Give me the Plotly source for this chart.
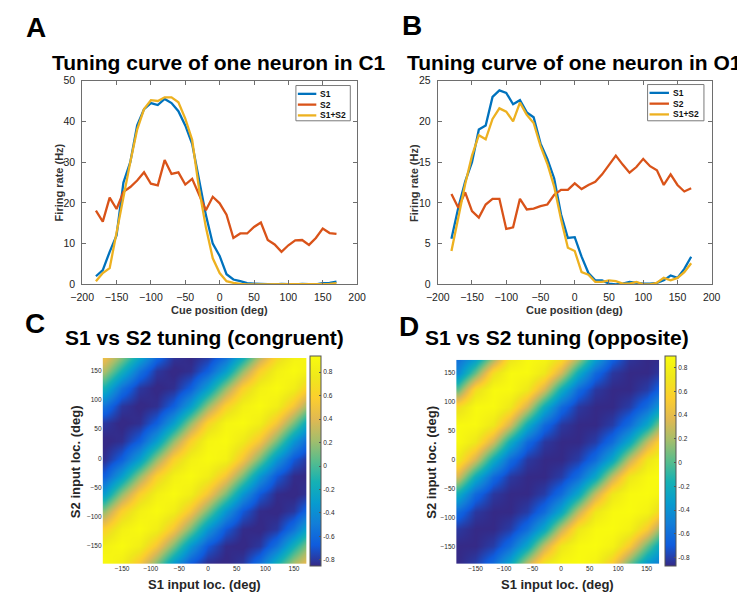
import plotly.graph_objects as go

# ---------------- data ----------------
cue_deg = [-180, -170, -160, -150, -140, -130, -120, -110, -100, -90, -80, -70,
           -60, -50, -40, -30, -20, -10, 0, 10, 20, 30, 40, 50, 60, 70, 80, 90,
           100, 110, 120, 130, 140, 150, 160, 170]

c1_s1 = [2, 3.5, 8, 12, 25, 30, 39, 43, 44.5, 44, 45.5, 44.5, 42.5, 39, 34.5, 25.5,
         17, 10, 7, 2.5, 1.2, 0.8, 0.3, 0.2, 0.1, 0, 0, 0.1, 0, 0, 0.1, 0, 0, 0.3, 0.4, 0.7]
c1_s2 = [18.1, 15.4, 21.3, 18.5, 22.7, 23.9, 25.5, 27.5, 24.7, 24.3, 30.5, 27.1,
         27.5, 24.5, 25.9, 22.1, 18.2, 21.5, 19.9, 17.1, 11.4, 12.5, 12.5, 14.1, 15.2,
         10.9, 9.8, 8.0, 9.6, 10.8, 10.9, 9.7, 11.4, 13.7, 12.6, 12.4]
c1_s12 = [0.8, 2.8, 4, 13, 22, 30, 38, 43, 45.2, 45, 45.9, 45.9, 44.7, 40.7, 35.5, 23.5,
          14, 6.4, 2.8, 0.8, 0.4, 0.1, 0, 0, 0, 0, 0, 0, 0, 0, 0, 0, 0, 0, 0.1, 0.3]

o1_s1 = [5.6, 9.4, 12.6, 15, 19, 19.5, 23, 23.8, 23.5, 22.1, 22.6, 21.1, 20.5, 17.3,
         15.4, 13, 8.6, 5.7, 5.8, 3.4, 1.4, 0.5, 0.5, 0.1, 0, 0.1, 0.3, 0.2, 0.1, 0.1,
         0.2, 0.5, 1.1, 0.8, 1.9, 3.4]
o1_s2 = [11.1, 9.4, 11.3, 9.0, 8.2, 9.8, 10.5, 10.5, 6.8, 7.0, 10.5, 9.2, 9.3, 9.6,
         9.8, 11.0, 11.6, 11.6, 12.4, 11.7, 12.2, 12.6, 13.5, 14.6, 15.8, 14.7, 13.7,
         14.4, 15.4, 14.5, 14.0, 12.2, 13.5, 12.2, 11.4, 11.8]
o1_s12 = [4.1, 8.3, 12.3, 15.8, 18.3, 17.8, 20.3, 21.6, 21.2, 20.0, 22.3, 20.8, 19.8,
          17.0, 14.8, 12.0, 8.0, 4.5, 4.1, 1.5, 1.2, 0.3, 0.3, 0.5, 0.4, 0.1, 0.1, 0.3,
          0.0, 0.0, 0.2, 0.8, 0.5, 0.8, 1.5, 2.6]

grid_deg = [-180, -150, -120, -90, -60, -30, 0, 30, 60, 90, 120, 150, 180]

# rows: S2 loc from -180 (first) to 180 (last); columns: S1 loc -180..180
congruent_z = [
    [0.93, 0.82, 0.52, 0.12, -0.34, -0.68, -0.84, -0.86, -0.80, -0.55, -0.15, 0.25, 0.55],
    [0.84, 0.93, 0.82, 0.52, 0.12, -0.34, -0.68, -0.84, -0.86, -0.80, -0.55, -0.15, 0.25],
    [0.60, 0.84, 0.93, 0.82, 0.52, 0.12, -0.34, -0.68, -0.84, -0.86, -0.80, -0.55, -0.15],
    [0.18, 0.60, 0.84, 0.93, 0.82, 0.52, 0.12, -0.34, -0.68, -0.84, -0.86, -0.80, -0.55],
    [-0.30, 0.18, 0.60, 0.84, 0.93, 0.82, 0.52, 0.12, -0.34, -0.68, -0.84, -0.86, -0.80],
    [-0.65, -0.30, 0.18, 0.60, 0.84, 0.93, 0.82, 0.52, 0.12, -0.34, -0.68, -0.84, -0.86],
    [-0.83, -0.65, -0.30, 0.18, 0.60, 0.84, 0.93, 0.86, 0.52, 0.12, -0.34, -0.68, -0.84],
    [-0.86, -0.83, -0.65, -0.30, 0.18, 0.60, 0.88, 0.93, 0.78, 0.52, 0.12, -0.34, -0.68],
    [-0.80, -0.86, -0.83, -0.65, -0.30, 0.18, 0.62, 0.88, 0.93, 0.82, 0.52, 0.12, -0.34],
    [-0.55, -0.80, -0.86, -0.83, -0.65, -0.30, 0.18, 0.60, 0.84, 0.93, 0.82, 0.52, 0.12],
    [-0.15, -0.55, -0.80, -0.86, -0.83, -0.65, -0.30, 0.18, 0.60, 0.84, 0.93, 0.82, 0.52],
    [0.25, -0.15, -0.55, -0.80, -0.86, -0.83, -0.65, -0.30, 0.18, 0.60, 0.84, 0.93, 0.82],
    [0.55, 0.25, -0.15, -0.55, -0.80, -0.86, -0.83, -0.65, -0.30, 0.18, 0.60, 0.84, 0.93],
]

opposite_z = [
    [-0.87, -0.80, -0.60, -0.25, 0.28, 0.72, 0.88, 0.90, 0.82, 0.52, 0.05, -0.38, -0.58],
    [-0.87, -0.87, -0.80, -0.60, -0.25, 0.28, 0.72, 0.88, 0.90, 0.82, 0.52, 0.05, -0.38],
    [-0.82, -0.87, -0.87, -0.80, -0.60, -0.25, 0.28, 0.72, 0.88, 0.90, 0.82, 0.52, 0.05],
    [-0.62, -0.82, -0.87, -0.87, -0.80, -0.60, -0.25, 0.28, 0.72, 0.88, 0.90, 0.82, 0.52],
    [-0.22, -0.62, -0.82, -0.87, -0.87, -0.80, -0.60, -0.25, 0.28, 0.72, 0.88, 0.90, 0.82],
    [0.32, -0.22, -0.62, -0.82, -0.87, -0.87, -0.80, -0.60, -0.25, 0.28, 0.72, 0.88, 0.90],
    [0.72, 0.32, -0.22, -0.62, -0.82, -0.87, -0.87, -0.80, -0.60, -0.25, 0.28, 0.72, 0.88],
    [0.88, 0.72, 0.32, -0.22, -0.62, -0.82, -0.87, -0.87, -0.80, -0.60, -0.25, 0.28, 0.72],
    [0.88, 0.88, 0.72, 0.32, -0.22, -0.62, -0.82, -0.87, -0.87, -0.80, -0.60, -0.25, 0.28],
    [0.65, 0.88, 0.88, 0.72, 0.32, -0.22, -0.62, -0.82, -0.87, -0.87, -0.80, -0.60, -0.25],
    [0.05, 0.65, 0.88, 0.88, 0.72, 0.32, -0.22, -0.62, -0.82, -0.87, -0.87, -0.80, -0.60],
    [-0.45, 0.05, 0.65, 0.88, 0.88, 0.72, 0.32, -0.22, -0.62, -0.82, -0.87, -0.87, -0.80],
    [-0.62, -0.45, 0.05, 0.65, 0.88, 0.88, 0.72, 0.32, -0.22, -0.62, -0.82, -0.87, -0.87],
]

series_names = ["S1", "S2", "S1+S2"]
cbar_ticks = [-0.8, -0.6, -0.4, -0.2, 0, 0.2, 0.4, 0.6, 0.8]
cbar_text = ["-0.8", "-0.6", "-0.4", "-0.2", "0", "0.2", "0.4", "0.6", "0.8"]
line_ticks = [-200, -150, -100, -50, 0, 50, 100, 150, 200]
map_ticks = [-150, -100, -50, 0, 50, 100, 150]

# ---------------- styling ----------------
FONT = "Liberation Sans, Arial, Helvetica, sans-serif"
OFF = 8                      # page body margin of the html page
W, H = 745 - OFF, 601 - OFF  # figure size so the figure ends at the window edge
TXT = "#262626"
AX = "#6e6e6e"
COL = {"S1": "#0072BD", "S2": "#D95319", "S1+S2": "#EDB120"}

PARULA = [
    [0.0, "rgb(53,42,135)"], [0.1, "rgb(15,92,221)"], [0.2, "rgb(18,125,216)"],
    [0.3, "rgb(7,156,207)"], [0.4, "rgb(21,177,180)"], [0.5, "rgb(89,189,140)"],
    [0.6, "rgb(165,190,107)"], [0.7, "rgb(225,185,82)"], [0.8, "rgb(252,206,46)"],
    [0.9, "rgb(239,232,27)"], [1.0, "rgb(249,251,14)"],
]


def px(x):
    return (x - OFF) / W


def py(y):
    return 1 - (y - OFF) / H


fig = go.Figure()

for name, vals in zip(series_names, [c1_s1, c1_s2, c1_s12]):
    fig.add_trace(go.Scatter(x=cue_deg, y=vals, mode="lines", name=name,
                             line=dict(color=COL[name], width=2.3),
                             xaxis="x", yaxis="y", showlegend=False, hoverinfo="skip"))
for name, vals in zip(series_names, [o1_s1, o1_s2, o1_s12]):
    fig.add_trace(go.Scatter(x=cue_deg, y=vals, mode="lines", name=name,
                             line=dict(color=COL[name], width=2.3),
                             xaxis="x2", yaxis="y2", showlegend=False, hoverinfo="skip"))


def cbar(xleft):
    return dict(
        x=px(xleft), xanchor="left", xref="paper", xpad=0,
        y=py(464), yanchor="middle", ypad=0,
        len=210, lenmode="pixels", thickness=11, thicknessmode="pixels",
        outlinewidth=1, outlinecolor="#555",
        tickvals=cbar_ticks, ticktext=cbar_text, ticks="inside", ticklen=2,
        tickcolor="#555", tickfont=dict(size=6.5, color=TXT, family=FONT))


fig.add_trace(go.Heatmap(
    x=grid_deg, y=grid_deg, z=congruent_z, zsmooth="best", colorscale=PARULA,
    zmin=-0.85, zmax=0.94, xaxis="x3", yaxis="y3", colorbar=cbar(307), hoverinfo="skip"))
fig.add_trace(go.Heatmap(
    x=grid_deg, y=grid_deg, z=opposite_z, zsmooth="best", colorscale=PARULA,
    zmin=-0.87, zmax=0.90, xaxis="x4", yaxis="y4", colorbar=cbar(672), hoverinfo="skip"))

tickfont_line = dict(size=10.5, color="#222", family=FONT)
line_x = dict(range=[-200, 200], tickvals=line_ticks, ticks="inside", ticklen=4,
              tickcolor=AX, showline=True, linecolor=AX, linewidth=1, mirror="ticks",
              showgrid=False, zeroline=False, tickfont=tickfont_line,
              ticklabelstandoff=3)
line_y = dict(ticks="inside", ticklen=4, tickcolor=AX, showline=True, linecolor=AX,
              linewidth=1, mirror="ticks", showgrid=False, zeroline=False,
              tickfont=tickfont_line, ticklabelstandoff=4)
map_x = dict(range=[-184, 172], tickvals=map_ticks, ticks="", showline=False,
             showgrid=False, zeroline=False,
             tickfont=dict(size=6.5, color=TXT, family=FONT))
map_y = dict(range=[-180, 172], tickvals=map_ticks, ticks="", showline=False,
             showgrid=False, zeroline=False,
             tickfont=dict(size=6.5, color=TXT, family=FONT))

fig.update_layout(
    width=W, height=H, margin=dict(l=0, r=0, t=0, b=0),
    paper_bgcolor="white", plot_bgcolor="white",
    font=dict(family=FONT, color=TXT),
    showlegend=False,
    xaxis=dict(domain=[px(72), px(355)], anchor="y", **line_x),
    yaxis=dict(domain=[py(284), py(76)], anchor="x", range=[0, 50], dtick=10, **line_y),
    xaxis2=dict(domain=[px(438), px(720)], anchor="y2", **line_x),
    yaxis2=dict(domain=[py(284), py(76)], anchor="x2", range=[0, 25], dtick=5, **line_y),
    xaxis3=dict(domain=[px(93), px(303)], anchor="y3", **map_x),
    yaxis3=dict(domain=[py(569), py(359)], anchor="x3", **map_y),
    xaxis4=dict(domain=[px(457), px(666)], anchor="y4", **map_x),
    yaxis4=dict(domain=[py(569), py(361)], anchor="x4", **map_y),
)

ann = []
shapes = []


def text(x, y, s, size, bold=True, angle=0, color="#000", anchor="center"):
    ann.append(dict(x=px(x), y=py(y), xref="paper", yref="paper", text=s,
                    showarrow=False, xanchor=anchor, yanchor="middle",
                    textangle=angle,
                    font=dict(size=size, color=color, family=FONT,
                              weight="bold" if bold else "normal")))


def legend_box(left, top, right, bottom, line_x0, line_x1, rows):
    shapes.append(dict(type="rect", xref="paper", yref="paper",
                       x0=px(left), x1=px(right), y0=py(bottom), y1=py(top),
                       line=dict(color="#7a7a7a", width=1), fillcolor="white"))
    for name, yrow in zip(series_names, rows):
        shapes.append(dict(type="line", xref="paper", yref="paper",
                           x0=px(line_x0), x1=px(line_x1), y0=py(yrow), y1=py(yrow),
                           line=dict(color=COL[name], width=2.3)))
        text(line_x1 + 2, yrow, name, 8.5, color="#111", anchor="left")


legend_box(292, 81, 348, 117, 294, 313, [89.5, 100.5, 111.5])
legend_box(654, 80, 712, 117, 656, 676, [88.5, 99.5, 110.5])

# panel letters
text(24, 22, "A", 28)
text(411, 20, "B", 28)
text(23, 324, "C", 28)
text(408, 327, "D", 28)
# titles
text(213, 57, "Tuning curve of one neuron in C1", 21)
text(579, 57, "Tuning curve of one neuron in O1", 21)
text(198, 338, "S1 vs S2 tuning (congruent)", 21)
text(561, 338, "S1 vs S2 tuning (opposite)", 21)
# line-plot axis titles
text(213, 310, "Cue position (deg)", 11, color="#333")
text(579, 310, "Cue position (deg)", 11, color="#333")
text(48, 180, "Firing rate (Hz)", 11, angle=-90, color="#333")
text(413, 180, "Firing rate (Hz)", 11, angle=-90, color="#333")
# heatmap axis titles
text(198, 590, "S1 input loc. (deg)", 13, color=TXT)
text(561, 590, "S1 input loc. (deg)", 13, color=TXT)
text(65, 465, "S2 input loc. (deg)", 13, angle=-90, color=TXT)
text(432, 465, "S2 input loc. (deg)", 13, angle=-90, color=TXT)

fig.update_layout(annotations=ann, shapes=shapes)

fig.write_html("out.html")
